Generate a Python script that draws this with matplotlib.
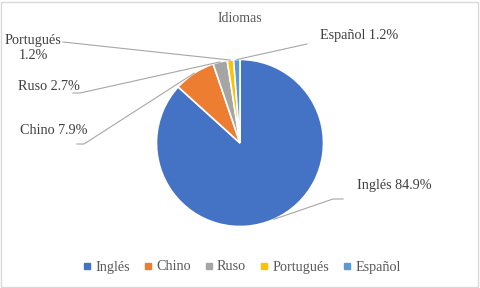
import numpy as np
import matplotlib
matplotlib.use("Agg")
import matplotlib.pyplot as plt
from matplotlib.lines import Line2D
from matplotlib.patches import Rectangle

# data
idiomas = ["Inglés", "Chino", "Ruso", "Portugués", "Español"]
porcentajes = [84.9, 7.9, 2.7, 1.2, 1.2]
etiquetas = ["Inglés 84.9%", "Chino 7.9%", "Ruso 2.7%", "Portugués\n1.2%", "Español 1.2%"]
colores = ["#4472C4", "#ED7D31", "#A5A5A5", "#FFC000", "#5B9BD5"]

plt.rcParams["font.family"] = ["Liberation Serif", "DejaVu Serif"]

W, H = 480, 288
fig = plt.figure(figsize=(4.8, 2.88), dpi=100)
ax = fig.add_axes([0, 0, 1, 1])

cx, cy, r = 240, H - 143, 83.5
wedges, _ = ax.pie(porcentajes, colors=colores, startangle=90, counterclock=False,
                   center=(cx, cy), radius=r, frame=True,
                   wedgeprops=dict(edgecolor="white", linewidth=1.2))
ax.set_xlim(0, W)
ax.set_ylim(0, H)
ax.set_aspect("equal")
ax.axis("off")

# label layout (pixel coords from top-left): text pos, alignment, leader start/elbow
layout = [
    dict(xy=(357, 185), ha="left", pts=[(343, 199), (333, 199)]),
    dict(xy=(20, 130), ha="left", pts=[(77, 144), (84, 144)]),
    dict(xy=(18, 86), ha="left", pts=[(73, 93), (80, 93)]),
    dict(xy=(33, 48), ha="center", pts=[(63, 42)]),
    dict(xy=(320, 35), ha="left", pts=[(307, 44)]),
]

for w, lab, lay in zip(wedges, etiquetas, layout):
    ang = np.deg2rad((w.theta1 + w.theta2) / 2)
    ex, ey = cx + r * np.cos(ang), cy + r * np.sin(ang)
    xs = [p[0] for p in lay["pts"]] + [ex]
    ys = [H - p[1] for p in lay["pts"]] + [ey]
    ax.plot(xs, ys, color="#A6A6A6", lw=0.8, zorder=1)
    tx, ty = lay["xy"]
    ax.text(tx, H - ty, lab, ha=lay["ha"], va="center", fontsize=10.2,
            color="#404040", linespacing=1.15)

ax.text(240, H - 19, "Idiomas", ha="center", va="center", fontsize=10, color="#595959")

handles = [Line2D([], [], marker="s", ls="", color=c, markersize=4) for c in colores]
ax.legend(handles, idiomas, loc="center", bbox_to_anchor=(242, H - 267),
          bbox_transform=ax.transData, ncol=5, frameon=False,
          prop={"family": ["Liberation Serif"], "size": 10.2},
          handlelength=0.5, handletextpad=0.35, columnspacing=1.0,
          labelcolor="#595959")

fig.patches.append(Rectangle((0.002, 0.004), 0.994, 0.99, transform=fig.transFigure,
                             fill=False, edgecolor="#D9D9D9", lw=1))

fig.savefig("out.png", dpi=100)
